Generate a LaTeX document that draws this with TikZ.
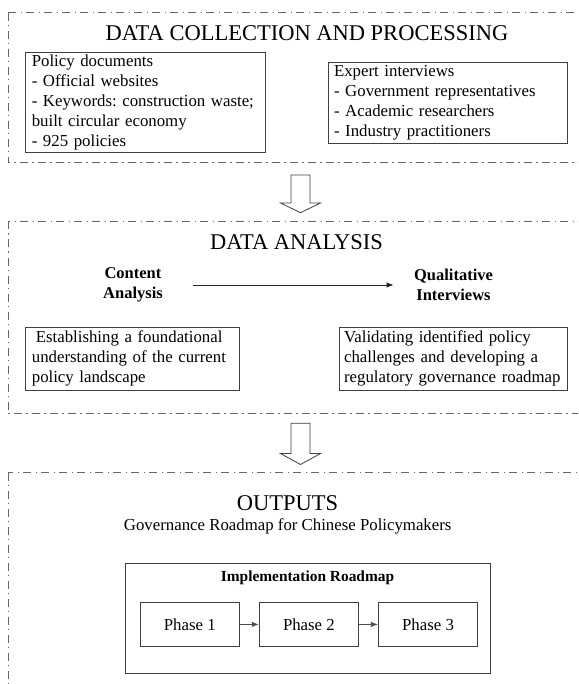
\documentclass[tikz,border=0pt]{standalone}
\usepackage{fontspec}
\setmainfont{Liberation Serif}
\usetikzlibrary{arrows.meta}
\usetikzlibrary{positioning}

\newcommand{\bodyfont}{\fontsize{16.8}{20}\selectfont\frenchspacing}
\newcommand{\headfont}{\fontsize{22.5}{26}\selectfont}

\begin{document}
\begin{tikzpicture}[x=1pt,y=-1pt,
    stageframe/.style={draw=black!60, line width=0.8pt, dash pattern=on 8pt off 4pt on 1.5pt off 4.5pt},
    infobox/.style={draw=black!75, line width=0.8pt, align=left, inner xsep=6pt, inner ysep=0pt, font=\bodyfont},
    phasebox/.style={draw=black!75, line width=0.8pt, minimum width=99.5pt, minimum height=44.2pt, font=\bodyfont},
    methodlabel/.style={align=center, font=\fontsize{16.5}{20}\selectfont\bfseries},
    bigarrow/.style={draw=black!75, line width=0.8pt, fill=white},
    flowarrow/.style={-{Latex[length=7pt,width=5.5pt]}, draw=black!70, line width=0.8pt}]

  \useasboundingbox (0,0) rectangle (578,684);
  \clip (0,0) rectangle (578,684);

  % stage frames, open to the right
  \draw[stageframe] (8,12.7) rectangle (600,162.7);
  \draw[stageframe] (8,221.5) rectangle (600,413.5);
  \draw[stageframe] (8,472.5) rectangle (600,720);

  % data collection and processing
  \node[font=\headfont] (collecttitle) at (307,33.5) {DATA COLLECTION AND PROCESSING};
  \node[infobox, text width=227.6pt, minimum height=100.3pt] (policy) at (145.6,102.2)
    {Policy documents\\- Official websites\\- Keywords: construction waste;\\built circular economy\\- 925 policies};
  \node[infobox, text width=227.3pt, minimum height=81.3pt] (expert) at (447.7,102.7)
    {Expert interviews\\- Government representatives\\- Academic researchers\\- Industry practitioners};

  \draw[bigarrow] (291,175) -- (310,175) -- (310,203) -- (320.5,203) -- (300.5,212.7)
    -- (280.5,203) -- (291,203) -- cycle;

  % data analysis
  \node[font=\headfont] (analysistitle) at (296.5,241.7) {DATA ANALYSIS};
  \node[methodlabel] (content) at (133,285) {Content\\Analysis};
  \node[methodlabel] (qual) at (453.5,285) {Qualitative\\Interviews};
  \draw[flowarrow, draw=black!85] ([xshift=27pt]content.east) -- ([xshift=-17pt]qual.west);
  \node[infobox, text width=201.7pt, minimum height=63pt] (foundation) at (132.7,358.5)
    {\hspace{4pt}Establishing a foundational\\understanding of the current\\policy landscape};
  \node[infobox, inner xsep=4.3pt, text width=219pt, minimum height=63pt] (validation) at (453.6,358.5)
    {Validating identified policy\\challenges and developing a\\regulatory governance roadmap};

  \draw[bigarrow] (291,423.3) -- (310,423.3) -- (310,453.5) -- (320.5,453.5) -- (300.5,464.5)
    -- (280.5,453.5) -- (291,453.5) -- cycle;

  % outputs
  \node[font=\headfont] (outputstitle) at (287.5,502.7) {OUTPUTS};
  \node[font=\bodyfont] (outputssub) at (287.7,526.7) {Governance Roadmap for Chinese Policymakers};
  \node[draw=black!75, line width=0.8pt, minimum width=365pt, minimum height=109.6pt] (roadmap) at (307.5,618.5) {};
  \node[font=\fontsize{15.4}{18}\selectfont\bfseries] (roadmaptitle) at (307.5,577.3) {Implementation Roadmap};
  \node[phasebox] (phase1) at (189.8,624.4) {Phase 1};
  \node[phasebox, right=18.8pt of phase1] (phase2) {Phase 2};
  \node[phasebox, right=18.8pt of phase2] (phase3) {Phase 3};
  \draw[flowarrow] (phase1) -- (phase2);
  \draw[flowarrow] (phase2) -- (phase3);
\end{tikzpicture}
\end{document}
